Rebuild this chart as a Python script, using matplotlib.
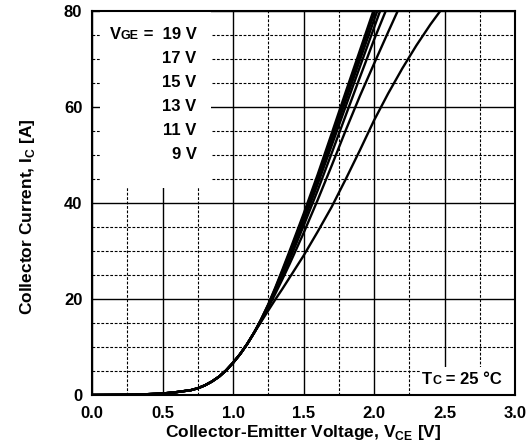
import matplotlib
matplotlib.use("Agg")
import matplotlib.pyplot as plt
from matplotlib.patches import Rectangle
from matplotlib.offsetbox import TextArea, HPacker, AnnotationBbox
from matplotlib.ticker import MultipleLocator

plt.rcParams['font.family'] = ['Liberation Sans', 'DejaVu Sans']
plt.rcParams['font.weight'] = 'bold'
plt.rcParams['mathtext.fontset'] = 'custom'
plt.rcParams['mathtext.rm'] = 'Liberation Sans:bold'
plt.rcParams['mathtext.bf'] = 'Liberation Sans:bold'

## data (V_CE [V], I_C [A])
# all curves share the same knee below ~1.15 V
v_knee = [0.0, 0.3, 0.5, 0.6, 0.7, 0.75, 0.8, 0.85, 0.9, 0.95, 1.0, 1.05, 1.1, 1.15]
i_knee = [0.0, 0.05, 0.3, 0.6, 1.0, 1.4, 2.0, 2.8, 3.8, 5.1, 6.7, 8.5, 10.6, 13.0]

v_a = [1.2, 1.25, 1.3, 1.35, 1.4, 1.5, 1.6, 1.7, 1.8, 1.9, 1.995]
i_a = [15.8, 18.9, 22.4, 26.1, 29.9, 37.7, 45.9, 54.5, 63.2, 71.8, 80]
v_b = [1.2, 1.25, 1.3, 1.35, 1.4, 1.5, 1.6, 1.7, 1.8, 1.9, 2.007]
i_b = [15.8, 18.8, 22.2, 25.8, 29.5, 37.2, 45.3, 53.8, 62.3, 70.8, 80]
v_c = [1.2, 1.25, 1.3, 1.35, 1.4, 1.5, 1.6, 1.7, 1.8, 1.9, 2.023]
i_c = [15.7, 18.7, 22.0, 25.5, 29.1, 36.7, 44.7, 53.0, 61.4, 69.8, 80]
v_d = [1.2, 1.25, 1.3, 1.35, 1.4, 1.5, 1.6, 1.7, 1.8, 1.9, 2.043]
i_d = [15.6, 18.6, 21.8, 25.2, 28.7, 36.1, 43.9, 52.0, 60.2, 68.4, 80]
v_e = [1.2, 1.25, 1.3, 1.35, 1.4, 1.5, 1.6, 1.7, 1.8, 1.9, 2.0, 2.083]
i_e = [15.5, 18.4, 21.5, 24.8, 28.1, 35.2, 42.6, 50.4, 58.3, 66.2, 74.0, 80]
v_f = [1.2, 1.25, 1.3, 1.35, 1.4, 1.5, 1.6, 1.7, 1.8, 1.9, 2.0, 2.1, 2.168]
i_f = [15.4, 18.2, 21.1, 24.1, 27.2, 33.7, 40.6, 47.8, 55.2, 62.3, 69.0, 75.6, 80]
v_g = [1.2, 1.25, 1.3, 1.35, 1.4, 1.5, 1.6, 1.7, 1.8, 1.9, 2.0, 2.1, 2.2, 2.3, 2.4, 2.47]
i_g = [15.3, 17.6, 19.9, 22.1, 24.4, 29.0, 34.0, 39.2, 45.0, 51.0, 57.2, 62.8, 68.0, 72.8, 77.2, 80]

curves = [(v_a, i_a), (v_b, i_b), (v_c, i_c), (v_d, i_d),
          (v_e, i_e), (v_f, i_f), (v_g, i_g)]

vge_labels = ['19 V', '17 V', '15 V', '13 V', '11 V', '9 V']
vge_y = [75, 70, 65, 60, 55, 50]

fig = plt.figure(figsize=(5.27, 4.44), dpi=100)
ax = fig.add_axes([0.1746, 0.1104, 0.8027, 0.8649])

ax.set_xlim(0, 3.0)
ax.set_ylim(0, 80)
ax.xaxis.set_major_locator(MultipleLocator(0.5))
ax.xaxis.set_minor_locator(MultipleLocator(0.25))
ax.yaxis.set_major_locator(MultipleLocator(20))
ax.yaxis.set_minor_locator(MultipleLocator(5))
ax.set_xticks([0.0, 0.5, 1.0, 1.5, 2.0, 2.5, 3.0])
ax.set_xticklabels(['0.0', '0.5', '1.0', '1.5', '2.0', '2.5', '3.0'])

ax.set_axisbelow(True)
ax.grid(which='major', color='black', linewidth=1.0, linestyle='-')
ax.grid(which='minor', color='black', linewidth=0.8, linestyle=(0, (2.5, 1.5)))
ax.tick_params(which='both', length=0)
ax.tick_params(axis='x', pad=8, labelsize=12)
ax.tick_params(axis='y', pad=7, labelsize=12)
for s in ax.spines.values():
    s.set_linewidth(1.5)

# white boxes behind the notes
ax.add_patch(Rectangle((0.057, 43.1), 0.785, 40, fc='white', ec='none', zorder=1))
ax.add_patch(Rectangle((2.33, 0.3), 0.66, 5.5, fc='white', ec='none', zorder=1))

for v, i in curves:
    ax.plot(v_knee + v, i_knee + i, color='black', linewidth=1.7, zorder=3,
            solid_joinstyle='round')

# V_GE labels
tp = dict(fontsize=12, fontweight='bold', color='black')
tps = dict(fontsize=9, fontweight='bold', color='black')
first = HPacker(children=[TextArea('V', textprops=tp), TextArea('GE', textprops=tps),
                          TextArea(' =  ' + vge_labels[0], textprops=tp)],
                align='baseline', pad=0, sep=0)
ax.add_artist(AnnotationBbox(first, (0.742, vge_y[0]), xycoords='data',
                             box_alignment=(1, 0.5), frameon=False, pad=0))
for lab, y in zip(vge_labels[1:], vge_y[1:]):
    ax.text(0.742, y, lab, ha='right', va='center', **tp)

tc = HPacker(children=[TextArea('T', textprops=tp), TextArea('C', textprops=tps),
                       TextArea(' = 25 \u00b0C', textprops=tp)],
             align='baseline', pad=0, sep=0)
ax.add_artist(AnnotationBbox(tc, (2.908, 3.3), xycoords='data',
                             box_alignment=(1, 0.5), frameon=False, pad=0))

ax.set_xlabel(r'Collector-Emitter Voltage, V$_\mathbf{CE}$ [V]', fontsize=12.5,
              fontweight='bold', labelpad=1.5)
ax.set_ylabel(r'Collector Current, I$_\mathbf{C}$ [A]', fontsize=12.5,
              fontweight='bold')
ax.yaxis.set_label_coords(-0.13, 0.465)

fig.savefig('out.png', dpi=100)
